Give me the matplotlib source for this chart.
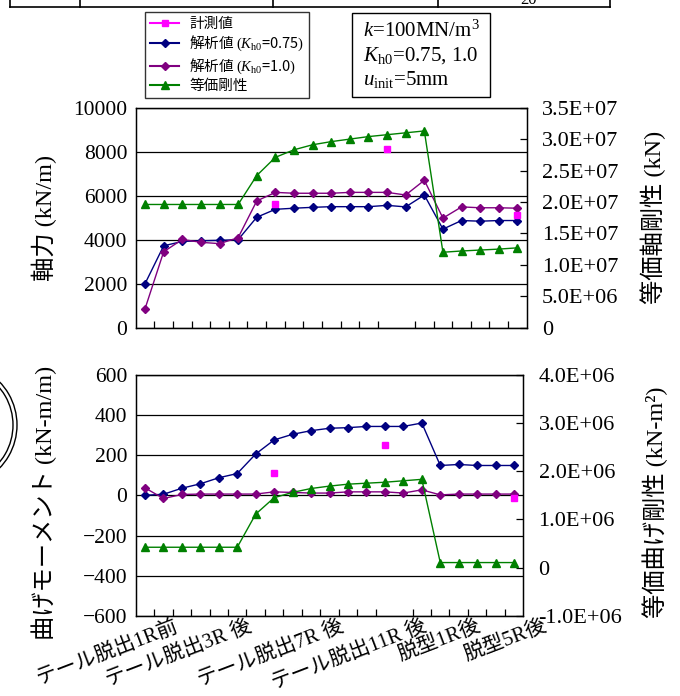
import numpy as np
import matplotlib
matplotlib.use('Agg')
import matplotlib.pyplot as plt
from matplotlib.ticker import FuncFormatter, FixedLocator
from matplotlib.transforms import ScaledTranslation
from matplotlib.lines import Line2D
from matplotlib.patches import Rectangle, Arc

plt.rcParams['font.family'] = ['Liberation Serif', 'Noto Sans CJK JP']
plt.rcParams['mathtext.fontset'] = 'custom'
plt.rcParams['mathtext.rm'] = 'Liberation Serif'
plt.rcParams['mathtext.it'] = 'Liberation Serif:italic'
plt.rcParams['mathtext.bf'] = 'Liberation Serif:bold'

# --- data ---
steps = np.arange(21)
tick_pos = [0, 4, 9, 13.5, 16.4, 20]
tick_labels = ['テール脱出1R前', 'テール脱出3R 後', 'テール脱出7R 後',
               'テール脱出11R 後', '脱型1R後', '脱型5R後']

nan = np.nan
# axial force (kN/m)
axial_meas = [nan, nan, nan, nan, nan, nan, nan, 5600, nan, nan, nan, nan, nan, 8130,
              nan, nan, nan, nan, nan, nan, 5140]
axial_k075 = [2000, 3720, 3920, 3950, 3970, 4000, 5020, 5380, 5430, 5470, 5500, 5500,
              5500, 5560, 5490, 6030, 4480, 4870, 4840, 4870, 4870]
axial_k10 = [860, 3450, 4010, 3880, 3820, 4090, 5760, 6150, 6110, 6110, 6110, 6150,
             6150, 6150, 6030, 6700, 4980, 5490, 5450, 5450, 5430]
axial_stiff = [1.96e7, 1.96e7, 1.96e7, 1.96e7, 1.96e7, 1.96e7, 2.42e7, 2.71e7, 2.83e7,
               2.91e7, 2.96e7, 3.00e7, 3.04e7, 3.07e7, 3.10e7, 3.13e7, 1.20e7, 1.22e7,
               1.235e7, 1.25e7, 1.27e7]
# bending moment (kN-m/m)
moment_meas = [nan, nan, nan, nan, nan, nan, nan, 109, nan, nan, nan, nan, nan, 251,
               nan, nan, nan, nan, nan, nan, -16]
moment_k075 = [0, 5, 35, 57, 87, 108, 205, 275, 303, 321, 333, 336, 342, 342, 342, 359,
               148, 153, 148, 148, 148]
moment_k10 = [37, -16, 4, 6, 6, 6, 6, 17, 14, 11, 11, 17, 17, 17, 11, 27, 2, 6, 6, 6, 6]
bend_stiff = [0.424e6, 0.424e6, 0.424e6, 0.424e6, 0.424e6, 0.424e6, 1.11e6, 1.45e6, 1.56e6,
              1.64e6, 1.69e6, 1.73e6, 1.75e6, 1.77e6, 1.80e6, 1.83e6, 0.107e6, 0.107e6,
              0.107e6, 0.107e6, 0.107e6]

C_MEAS = '#FF00FF'
C_K075 = '#000080'
C_K10 = '#800080'
C_STIFF = '#008000'

FS = 15.5
LFS = 17.5


def sci(v, pos):
    if abs(v) < 1e-9:
        return '0'
    return f'{v:.1E}'


def style(ax, axr, ylim, yticks, rlim, rticks, ylab, rlab, show_labels):
    ax.set_xlim(-0.5, 20.5)
    ax.set_ylim(*ylim)
    ax.set_yticks(yticks)
    ax.grid(axis='y', color='black', lw=0.9)
    ax.set_axisbelow(True)
    ax.tick_params(axis='y', length=0, pad=6, labelsize=FS)
    ax.xaxis.set_major_locator(FixedLocator(tick_pos))
    ax.xaxis.set_minor_locator(FixedLocator(np.arange(0.5, 20, 1.0)))
    ax.tick_params(axis='x', which='major', length=0, pad=3)
    ax.tick_params(axis='x', which='minor', direction='in', length=5, width=0.9)
    if show_labels:
        ax.set_xticklabels(tick_labels, rotation=21, ha='right', va='center',
                           rotation_mode='anchor', fontsize=15)
        off = ScaledTranslation(0.32, -0.055, fig.dpi_scale_trans)
        for lab in ax.get_xticklabels():
            lab.set_transform(lab.get_transform() + off)
    else:
        ax.set_xticklabels([])
    for sp in ax.spines.values():
        sp.set_linewidth(1.0)
    axr.set_ylim(*rlim)
    axr.set_yticks(rticks)
    axr.yaxis.set_major_formatter(FuncFormatter(sci))
    axr.tick_params(axis='y', direction='in', length=5, width=0.9, pad=11, labelsize=16)
    ax.set_ylabel(ylab, fontsize=LFS)
    axr.set_ylabel(rlab, fontsize=LFS)


fig = plt.figure(figsize=(6.8, 6.96), dpi=100)

# top panel: axial force
ax1 = fig.add_axes([0.1996, 0.5292, 0.575, 0.3161])
ax1r = ax1.twinx()
ax1.plot(steps, axial_k075, color=C_K075, marker='D', ms=4, lw=1.0, zorder=3)
ax1.plot(steps, axial_k10, color=C_K10, marker='D', ms=4, lw=1.0, zorder=3)
ax1.plot(steps, axial_meas, color=C_MEAS, marker='s', ms=5, ls='none', zorder=4)
ax1r.plot(steps, axial_stiff, color=C_STIFF, marker='^', ms=6, lw=1.0)
style(ax1, ax1r, (0, 10000), np.arange(0, 10001, 2000), (0, 3.5e7),
      np.arange(0, 3.51e7, 5e6), '軸力 (kN/m)', '等価軸剛性 (kN)', False)
ax1.yaxis.set_label_coords(-0.20, 0.5)
ax1r.yaxis.set_label_coords(1.29, 0.5)

# bottom panel: bending moment
ax2 = fig.add_axes([0.1996, 0.1149, 0.570, 0.347])
ax2r = ax2.twinx()
ax2.plot(steps, moment_k075, color=C_K075, marker='D', ms=4, lw=1.0, zorder=3)
ax2.plot(steps, moment_k10, color=C_K10, marker='D', ms=4, lw=1.0, zorder=3)
ax2.plot(steps, moment_meas, color=C_MEAS, marker='s', ms=5, ls='none', zorder=4)
ax2r.plot(steps, bend_stiff, color=C_STIFF, marker='^', ms=6, lw=1.0)
style(ax2, ax2r, (-600, 600), np.arange(-600, 601, 200), (-1e6, 4e6),
      np.arange(-1e6, 4.01e6, 1e6), '曲げモーメント (kN-m/m)', '等価曲げ剛性 (kN-m²)', True)
ax2.yaxis.set_label_coords(-0.203, 0.47)
ax2r.yaxis.set_label_coords(1.306, 0.47)

# legend
handles = [
    Line2D([], [], color=C_MEAS, marker='s', ms=4.5),
    Line2D([], [], color=C_K075, marker='D', ms=4),
    Line2D([], [], color=C_K10, marker='D', ms=4),
    Line2D([], [], color=C_STIFF, marker='^', ms=5.5),
]
labels = ['計測値', '解析値 $(K_{\\mathrm{h0}}$=0.75$)$', '解析値 $(K_{\\mathrm{h0}}$=1.0$)$',
          '等価剛性']
leg = fig.legend(handles, labels, loc='upper left', bbox_to_anchor=(145 / 680, 1 - 11.7 / 696),
                 prop={'family': 'Noto Sans CJK JP', 'size': 10.5}, frameon=True,
                 fancybox=False, edgecolor='black', borderaxespad=0, handlelength=2.0,
                 labelspacing=0.22, borderpad=0.35, handletextpad=0.7)
leg.get_frame().set_linewidth(1.0)

# parameter box
fig.add_artist(Rectangle((352 / 680, 1 - 97 / 696), 138 / 680, 84 / 696,
                         transform=fig.transFigure, fill=False, ec='black', lw=1.0))
params = ['$k$=100MN/m$^3$', '$K_{\\mathrm{h0}}$=0.75, 1.0', '$u_{\\mathrm{init}}$=5mm']
for i, t in enumerate(params):
    fig.text(363 / 680, 1 - (37 + 24 * i) / 696, t, fontsize=15, va='baseline',
             family='Liberation Serif')

# remnants of the table / figure above and to the left
for xp in [10, 80, 273, 438, 610]:
    fig.add_artist(Line2D([xp / 680, xp / 680], [1, 1 - 7 / 696], transform=fig.transFigure,
                          color='black', lw=1.2))
fig.add_artist(Line2D([10 / 680, 610 / 680], [1 - 7 / 696, 1 - 7 / 696],
                      transform=fig.transFigure, color='black', lw=1.2))
fig.text(520 / 680, 1 - 4 / 696, '20', fontsize=12, va='baseline')
for r in [0.58, 0.62]:
    fig.add_artist(Arc((-0.45, (696 - 425) / 100), 2 * r, 2 * r, theta1=-60, theta2=60,
                       transform=fig.dpi_scale_trans, color='black', lw=1.0))

fig.savefig('out.png', dpi=100)
